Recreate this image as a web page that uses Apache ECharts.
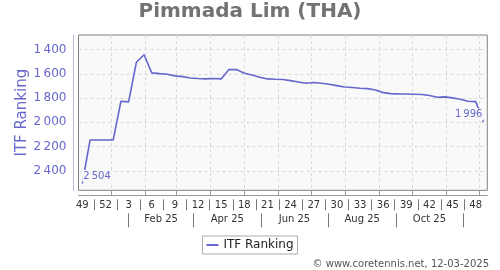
<!DOCTYPE html>
<html><head><meta charset="utf-8">
<script src="https://cdn.jsdelivr.net/npm/echarts@6/dist/echarts.min.js"></script>
<style>html,body{margin:0;padding:0;background:#fff}#c{width:500px;height:270px}</style>
</head><body><div id="c"></div>
<script>
// ---- data ----
const titleText = 'Pimmada Lim (THA)';
const seriesName = 'ITF Ranking';
const credit = '\u00a9 www.coretennis.net, 12-03-2025';
// first Monday shown: week 49 of 2024 (2 Dec 2024); 53 weekly points
const firstWeekMonday = Date.UTC(2024, 11, 2);
const weekCount = 53;
const weekNumbers = [49,50,51,52,1,2,3,4,5,6,7,8,9,10,11,12,13,14,15,16,17,18,19,20,21,22,23,24,25,26,27,28,29,30,31,32,33,34,35,36,37,38,39,40,41,42,43,44,45,46,47,48,49];
const ranking = [2504,2145,2145,2145,2145,1826,1831,1505,1443,1592,1598,1603,1617,1623,1634,1639,1642,1639,1642,1565,1565,1595,1609,1628,1642,1645,1647,1656,1667,1678,1672,1678,1686,1697,1708,1713,1719,1722,1733,1755,1763,1765,1766,1768,1771,1779,1793,1790,1798,1809,1826,1829,1996];
const yTicks = [1400,1600,1800,2000,2200,2400];
const monthLabels = ['Feb 25','Apr 25','Jun 25','Aug 25','Oct 25'];
const labelMonths = [1,3,5,7,9];      // month index (2025) of each label
const sepMonths = [0,2,4,6,8,10];     // separators at the middle of these months

// ---- derived helpers ----
const DAY = 86400000, WEEK = 7 * DAY;
const xMin = firstWeekMonday, xMax = firstWeekMonday + weekCount * WEEK;
const weekCenter = i => firstWeekMonday + (i + 0.5) * WEEK;
const monthStart = m => Date.UTC(2025, m, 1);
const monthMid = m => (monthStart(m) + monthStart(m + 1)) / 2;
const monthStarts = []; for (let m = 0; m < 12; m++) monthStarts.push(monthStart(m));
const weekLabelVals = [], weekSepVals = [];
for (let i = 0; i < weekCount; i += 3) weekLabelVals.push(weekCenter(i));
for (let i = 2; i < weekCount - 1; i += 3) weekSepVals.push(firstWeekMonday + i * WEEK);
const fmtNum = v => String(v).replace(/\B(?=(\d{3})+(?!\d))/g, '\u2009');

const BLUE = '#6666cc';
const seriesData = ranking.map((r, i) => {
  const item = { value: [weekCenter(i), r] };
  if (i === 0 || i === ranking.length - 1) {
    item.label = {
      show: true, position: 'top', distance: 1.5,
      align: i === 0 ? 'left' : 'right',
      formatter: p => fmtNum(p.value[1]),
      color: BLUE, fontSize: 10, fontFamily: 'DejaVu Sans',
      backgroundColor: '#f9f9f9', padding: [1, 1]
    };
  }
  return item;
});

const baseX = {
  type: 'value', min: xMin, max: xMax, position: 'bottom',
  splitLine: { show: false }
};

const chart = echarts.init(document.getElementById('c'), null, { renderer: 'canvas' });
chart.setOption({
  animation: false,
  backgroundColor: '#ffffff',
  textStyle: { fontFamily: 'DejaVu Sans' },
  title: [
    { text: titleText, left: 'center', top: 2, padding: 0,
      textStyle: { fontSize: 20, fontWeight: 'bold', color: '#737373', fontFamily: 'DejaVu Sans' } },
    { text: credit, right: 11, top: 259, padding: 0,
      textStyle: { fontSize: 10, fontWeight: 'normal', color: '#555', fontFamily: 'DejaVu Sans' } }
  ],
  legend: {
    data: [seriesName], left: 'center', top: 236,
    icon: 'rect', itemWidth: 12, itemHeight: 2, itemGap: 5,
    padding: [3, 4, 3, 4], borderColor: '#aaa', borderWidth: 1,
    backgroundColor: '#fff',
    textStyle: { fontSize: 12, color: '#222', fontFamily: 'DejaVu Sans' }
  },
  grid: {
    left: 78.5, right: 12.7, top: 35, bottom: 79.7,
    show: true, backgroundColor: '#f9f9f9', borderColor: '#808080', borderWidth: 1
  },
  xAxis: [
    Object.assign({}, baseX, {
      offset: 5,
      axisLine: { show: true, lineStyle: { color: '#9a9a9a', width: 1 } },
      axisTick: { show: true, inside: true, length: 5, customValues: monthStarts, lineStyle: { color: '#9a9a9a' } },
      axisLabel: { show: false },
      splitLine: { show: true, lineStyle: { color: '#d8d8d8', type: [3, 3] } }
    }),
    Object.assign({}, baseX, {
      offset: 9,
      axisLine: { show: false },
      axisTick: { show: true, length: 11, customValues: weekSepVals, lineStyle: { color: '#777' } },
      axisLabel: {
        customValues: weekLabelVals, margin: 1, fontSize: 10, color: '#333',
        formatter: v => String(weekNumbers[Math.round((v - firstWeekMonday) / WEEK - 0.5)])
      }
    }),
    Object.assign({}, baseX, {
      offset: 23,
      axisLine: { show: false },
      axisTick: { show: true, length: 14, customValues: sepMonths.map(monthMid), lineStyle: { color: '#777' } },
      axisLabel: {
        customValues: labelMonths.map(monthMid), margin: 1, fontSize: 10, color: '#333',
        formatter: v => monthLabels[labelMonths.map(monthMid).indexOf(v)]
      }
    })
  ],
  yAxis: {
    type: 'value', inverse: true, min: 1280, max: 2560, position: 'left', offset: 5,
    name: seriesName, nameLocation: 'middle', nameGap: 44, nameMoveOverlap: false,
    nameTextStyle: { fontSize: 15, color: BLUE, fontFamily: 'DejaVu Sans' },
    axisLine: { show: true, lineStyle: { color: '#b8b8e6', width: 1 } },
    axisTick: { show: false, customValues: yTicks },
    axisLabel: { customValues: yTicks, formatter: fmtNum, fontSize: 12, color: BLUE, margin: 7 },
    splitLine: { show: true, lineStyle: { color: '#d8d8d8', type: [3, 3] } }
  },
  series: [{
    name: seriesName, type: 'line', xAxisIndex: 0, data: seriesData,
    symbol: 'circle', symbolSize: 0, showSymbol: true, silent: true,
    itemStyle: { color: BLUE },
    lineStyle: { color: BLUE, width: 1.6 },
    z: 3
  }]
});
</script></body></html>
